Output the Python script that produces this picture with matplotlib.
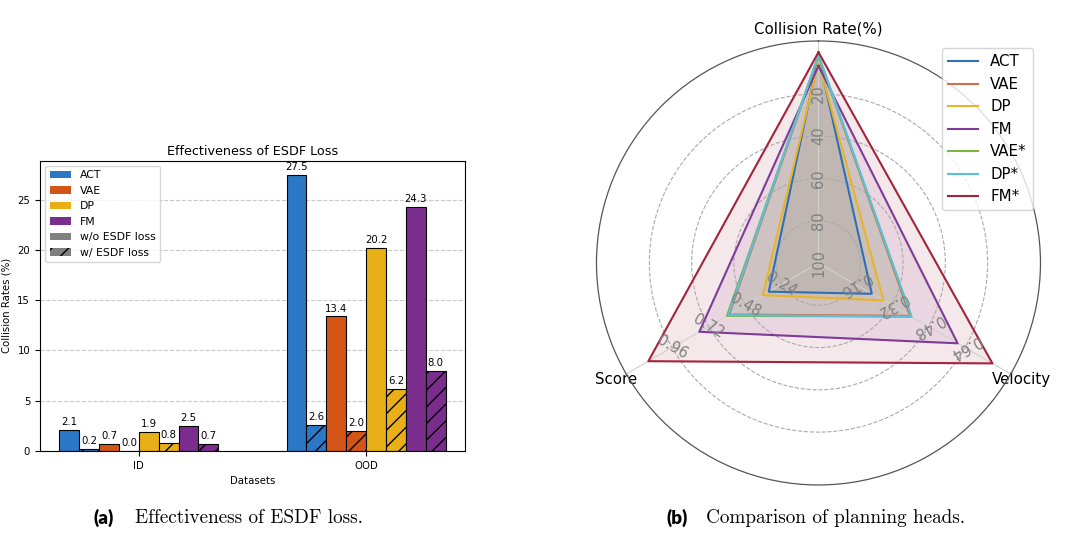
import numpy as np
import matplotlib
matplotlib.use("Agg")
import matplotlib.pyplot as plt
from matplotlib.patches import Patch

# ---------------- data: bar chart ----------------
datasets = ["ID", "OOD"]
methods = ["ACT", "VAE", "DP", "FM"]
wo_esdf = {"ACT": [2.1, 27.5], "VAE": [0.7, 13.4], "DP": [1.9, 20.2], "FM": [2.5, 24.3]}
w_esdf = {"ACT": [0.2, 2.6], "VAE": [0.0, 2.0], "DP": [0.8, 6.2], "FM": [0.7, 8.0]}
bar_colors = {"ACT": "#2a78c6", "VAE": "#d35618", "DP": "#e8b016", "FM": "#7b2d8e"}

# ---------------- data: radar chart ----------------
radar_axes = ["Collision Rate(%)", "Velocity", "Score"]
radar_names = ["ACT", "VAE", "DP", "FM", "VAE*", "DP*", "FM*"]
collision = [2.5, 2.0, 4.8, 6.8, 1.8, 1.6, 0.3]
velocity = [0.233, 0.400, 0.284, 0.608, 0.405, 0.407, 0.760]
score = [0.326, 0.585, 0.365, 0.781, 0.600, 0.591, 1.115]
radar_colors = ["#2f6fb5", "#d0704a", "#e8b52a", "#7d3c98", "#7cb342", "#5bc0de", "#a4243b"]
collision_ticks = ["100", "80", "60", "40", "20"]
velocity_ticks = ["0.16", "0.32", "0.48", "0.64"]
score_ticks = ["0.24", "0.48", "0.72", "0.96"]

fig = plt.figure(figsize=(10.8, 5.35), dpi=100)

# ================= bar chart =================
ax1 = fig.add_axes([0.037, 0.157, 0.3935, 0.5426])
x = np.arange(len(datasets))
w = 0.7 / 8
small = 7.3
for i, m in enumerate(methods):
    off1 = -0.35 + (2 * i + 0.5) * w
    off2 = -0.35 + (2 * i + 1.5) * w
    b1 = ax1.bar(x + off1, wo_esdf[m], w, color=bar_colors[m], edgecolor="black", linewidth=0.8)
    b2 = ax1.bar(x + off2, w_esdf[m], w, color=bar_colors[m], edgecolor="black", linewidth=0.8, hatch="//")
    ax1.bar_label(b1, fmt="%.1f", fontsize=small, padding=2)
    ax1.bar_label(b2, fmt="%.1f", fontsize=small, padding=2)
ax1.set_ylim(0, max(max(v) for v in wo_esdf.values()) * 1.05)
ax1.set_xticks(x)
ax1.set_xticklabels(datasets, fontsize=small)
ax1.tick_params(axis="y", labelsize=small)
ax1.set_xlabel("Datasets", fontsize=small)
ax1.set_ylabel("Collision Rates (%)", fontsize=small)
ax1.set_title("Effectiveness of ESDF Loss", fontsize=9.2, pad=4)
ax1.yaxis.grid(True, linestyle="--", color="#bbbbbb", alpha=0.8)
ax1.set_axisbelow(True)
handles = [Patch(facecolor=bar_colors[m], label=m) for m in methods]
handles.append(Patch(facecolor="gray", label="w/o ESDF loss"))
handles.append(Patch(facecolor="gray", edgecolor="black", linewidth=0, hatch="//", label="w/ ESDF loss"))
ax1.legend(handles=handles, loc="upper left", fontsize=7.8)

# ================= radar chart =================
ax2 = fig.add_axes([0.5523, 0.0935, 0.4111, 0.8299], polar=True)
ax2.set_theta_offset(np.pi / 2)
ax2.set_theta_direction(-1)
angles = np.array([0, 2 * np.pi / 3, 4 * np.pi / 3])
closed = np.concatenate([angles, angles[:1]])
for k, name in enumerate(radar_names):
    vals = np.array([1 - collision[k] / 100, velocity[k] / 0.8, score[k] / 1.2])
    vals = np.concatenate([vals, vals[:1]])
    ax2.plot(closed, vals, color=radar_colors[k], linewidth=1.5, label=name)
    ax2.fill(closed, vals, color=radar_colors[k], alpha=0.1)
ax2.set_ylim(0, 1.05)
ax2.set_yticks([0.2, 0.4, 0.6, 0.8])
ax2.set_yticklabels([])
ax2.set_xticks(angles)
ax2.set_xticklabels(radar_axes, fontsize=10.8)
ax2.tick_params(axis="x", pad=-2)
ax2.yaxis.grid(True, linestyle="--", color="#aaaaaa", linewidth=0.8)
ax2.xaxis.grid(True, linestyle="-", color="#d0d0d0", linewidth=0.8)
ax2.spines["polar"].set_color("#555555")
ax2.spines["polar"].set_linewidth(0.9)

tick_r = [0.0, 0.2, 0.4, 0.6, 0.8]
for r, lab in zip(tick_r, collision_ticks):
    ax2.text(angles[0], r, lab, rotation=90, ha="center", va="center", color="#808080", fontsize=10.5)
for r, lab in zip(tick_r[1:], velocity_ticks):
    ax2.text(angles[1], r, lab, rotation=210, ha="center", va="center", color="#808080", fontsize=10.5)
for r, lab in zip(tick_r[1:], score_ticks):
    ax2.text(angles[2], r, lab, rotation=330, ha="center", va="center", color="#808080", fontsize=10.5)
ax2.legend(loc="upper right", fontsize=10.8)

# ================= captions =================
fig.text(0.087, 0.032, "(a)", fontsize=13.5, fontweight="heavy", family="Lato", va="center")
fig.text(0.125, 0.032, "Effectiveness of ESDF loss.", fontsize=13.8, family="cmr10", va="center")
fig.text(0.6175, 0.032, "(b)", fontsize=13.5, fontweight="heavy", family="Lato", va="center")
fig.text(0.6537, 0.032, "Comparison of planning heads.", fontsize=13.8, family="cmr10", va="center")

fig.savefig("out.png", dpi=100)
